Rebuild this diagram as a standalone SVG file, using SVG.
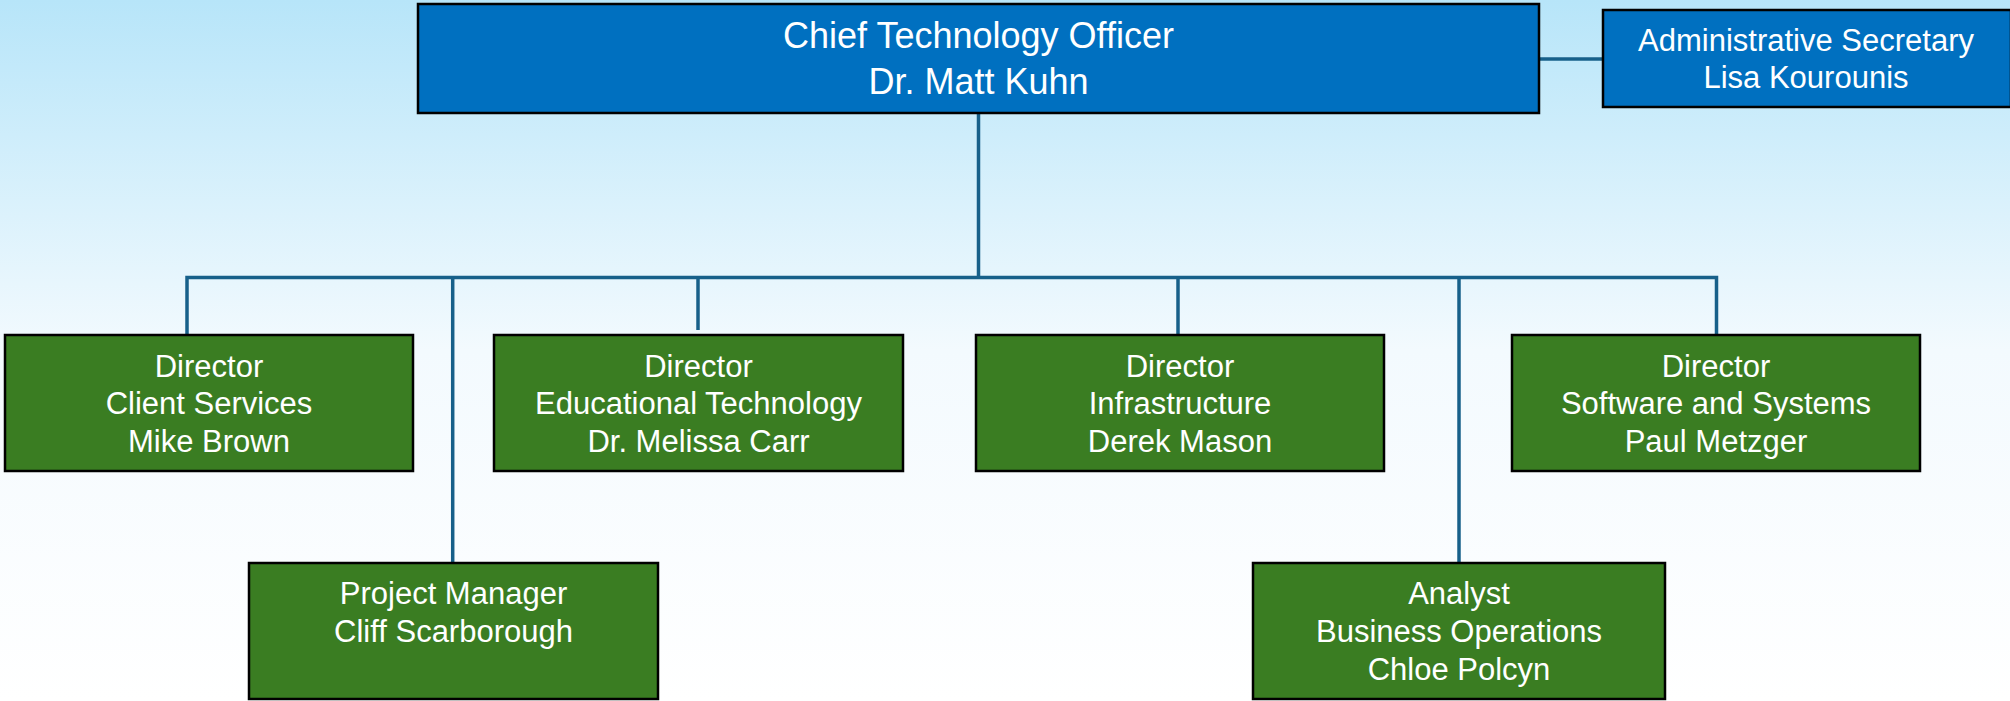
<svg xmlns="http://www.w3.org/2000/svg" width="2010" height="701" viewBox="0 0 2010 701">
<defs>
<linearGradient id="bg" x1="0" y1="0" x2="0" y2="701" gradientUnits="userSpaceOnUse">
<stop offset="0" stop-color="#B7E5F9"/>
<stop offset="0.5" stop-color="#F3FAFE"/>
<stop offset="1" stop-color="#FFFFFF"/>
</linearGradient>
<style>
.blue{fill:#0070C0;stroke:#000;stroke-width:2.5}
.green{fill:#3A7D22;stroke:#000;stroke-width:2.5}
.t{font-family:"Liberation Sans",Arial,sans-serif;font-size:31px;fill:#fff;text-anchor:middle}
.big{font-size:36px}
.c{fill:none;stroke:#17608A;stroke-width:3.5}
</style>
</defs>
<rect x="0" y="0" width="2010" height="701" fill="url(#bg)"/>
<g id="connectors">
<path class="c" d="M978.5 114 V277.5"/>
<path class="c" d="M1540 59 H1603"/>
<path class="c" d="M187 335 V277.5 H1716.5 V335"/>
<path class="c" d="M698 277.5 V330"/>
<path class="c" d="M1178 277.5 V335"/>
<path class="c" d="M452.7 277.5 V563"/>
<path class="c" d="M1459 277.5 V563"/>
</g>
<g id="cto">
<rect class="blue" x="418" y="4" width="1121" height="109"/>
<text class="t big" x="978.5" y="48">Chief Technology Officer</text>
<text class="t big" x="978.5" y="94">Dr. Matt Kuhn</text>
</g>
<g id="admin">
<rect class="blue" x="1603" y="10" width="408" height="97"/>
<text class="t" x="1806" y="51">Administrative Secretary</text>
<text class="t" x="1806" y="88">Lisa Kourounis</text>
</g>
<g id="client-services">
<rect class="green" x="5" y="335" width="408" height="136"/>
<text class="t" x="209" y="377">Director</text>
<text class="t" x="209" y="414">Client Services</text>
<text class="t" x="209" y="452">Mike Brown</text>
</g>
<g id="edtech">
<rect class="green" x="494" y="335" width="409" height="136"/>
<text class="t" x="698.5" y="377">Director</text>
<text class="t" x="698.5" y="414">Educational Technology</text>
<text class="t" x="698.5" y="452">Dr. Melissa Carr</text>
</g>
<g id="infrastructure">
<rect class="green" x="976" y="335" width="408" height="136"/>
<text class="t" x="1180" y="377">Director</text>
<text class="t" x="1180" y="414">Infrastructure</text>
<text class="t" x="1180" y="452">Derek Mason</text>
</g>
<g id="software">
<rect class="green" x="1512" y="335" width="408" height="136"/>
<text class="t" x="1716" y="377">Director</text>
<text class="t" x="1716" y="414">Software and Systems</text>
<text class="t" x="1716" y="452">Paul Metzger</text>
</g>
<g id="project-manager">
<rect class="green" x="249" y="563" width="409" height="136"/>
<text class="t" x="453.5" y="604">Project Manager</text>
<text class="t" x="453.5" y="642">Cliff Scarborough</text>
</g>
<g id="analyst">
<rect class="green" x="1253" y="563" width="412" height="136"/>
<text class="t" x="1459" y="604">Analyst</text>
<text class="t" x="1459" y="642">Business Operations</text>
<text class="t" x="1459" y="680">Chloe Polcyn</text>
</g>
</svg>
